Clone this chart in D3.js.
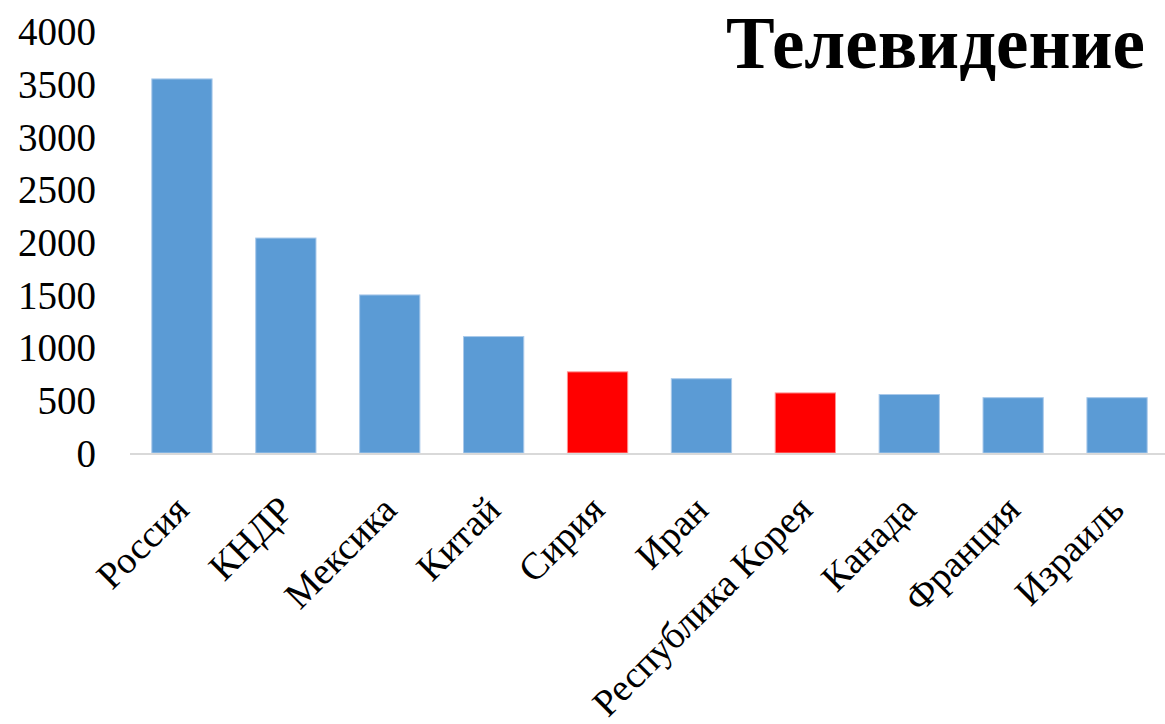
<!DOCTYPE html>
<meta charset="utf-8">

<!-- Load d3.js -->
<script src="https://d3js.org/d3.v7.min.js"></script>

<style>
  body { margin: 0; background: #fff; }
  text { font-family: "Liberation Serif", "Times New Roman", "DejaVu Serif", "Liberation Sans", sans-serif; }
</style>

<!-- Create a div where the graph will take place -->
<div id="my_dataviz"></div>

<script>

// data
var countries = ["Россия", "КНДР", "Мексика", "Китай", "Сирия", "Иран", "Республика Корея", "Канада", "Франция", "Израиль"];
var values = [3550, 2040, 1500, 1105, 770, 705, 570, 555, 525, 525];
var highlighted = ["Сирия", "Республика Корея"];
var yTicks = [0, 500, 1000, 1500, 2000, 2500, 3000, 3500, 4000];
var title = "Телевидение";

var data = countries.map(function(c, i) { return {name: c, value: values[i]}; });

// set the dimensions of the graph
var width = 1165,
    height = 724;

var svg = d3.select("#my_dataviz")
  .append("svg")
    .attr("width", width)
    .attr("height", height);

// X axis
var x = d3.scaleBand()
  .domain(countries)
  .range([130, 1169])
  .paddingInner(0.42)
  .paddingOuter(0.21);

// Y axis
var y = d3.scaleLinear()
  .domain([0, 4000])
  .range([453, 31.5]);

// Y tick labels
svg.append("g")
  .selectAll("text")
  .data(yTicks)
  .enter()
  .append("text")
    .attr("x", 96)
    .attr("y", function(d) { return y(d); })
    .attr("dy", "0.35em")
    .attr("text-anchor", "end")
    .style("font-size", "39px")
    .style("fill", "#000")
    .text(function(d) { return d; });

// bars
svg.selectAll("rect.bar")
  .data(data)
  .enter()
  .append("rect")
    .attr("class", "bar")
    .attr("x", function(d) { return x(d.name); })
    .attr("y", function(d) { return y(d.value); })
    .attr("width", x.bandwidth())
    .attr("height", function(d) { return y(0) - y(d.value); })
    .attr("fill", function(d) { return highlighted.indexOf(d.name) >= 0 ? "#ff0000" : "#5b9bd5"; })
    .attr("stroke", function(d) { return highlighted.indexOf(d.name) >= 0 ? "#ff9090" : "#a9c9ea"; })
    .attr("stroke-width", 1);

// baseline
svg.append("line")
  .attr("x1", 130)
  .attr("x2", 1165)
  .attr("y1", y(0) + 1)
  .attr("y2", y(0) + 1)
  .attr("stroke", "#d9d9d9")
  .attr("stroke-width", 2);

// category labels, rotated
svg.append("g")
  .selectAll("text")
  .data(countries)
  .enter()
  .append("text")
    .attr("text-anchor", "end")
    .attr("transform", function(d) {
      return "translate(" + (x(d) + x.bandwidth() / 2 + 9) + ",512) rotate(-45)";
    })
    .style("font-size", "38px")
    .style("fill", "#000")
    .text(function(d) { return d; });

// title
svg.append("text")
  .attr("x", 1145)
  .attr("y", 68)
  .attr("text-anchor", "end")
  .style("font-weight", "bold")
  .style("font-size", "73px")
  .style("fill", "#000")
  .text(title);

</script>
